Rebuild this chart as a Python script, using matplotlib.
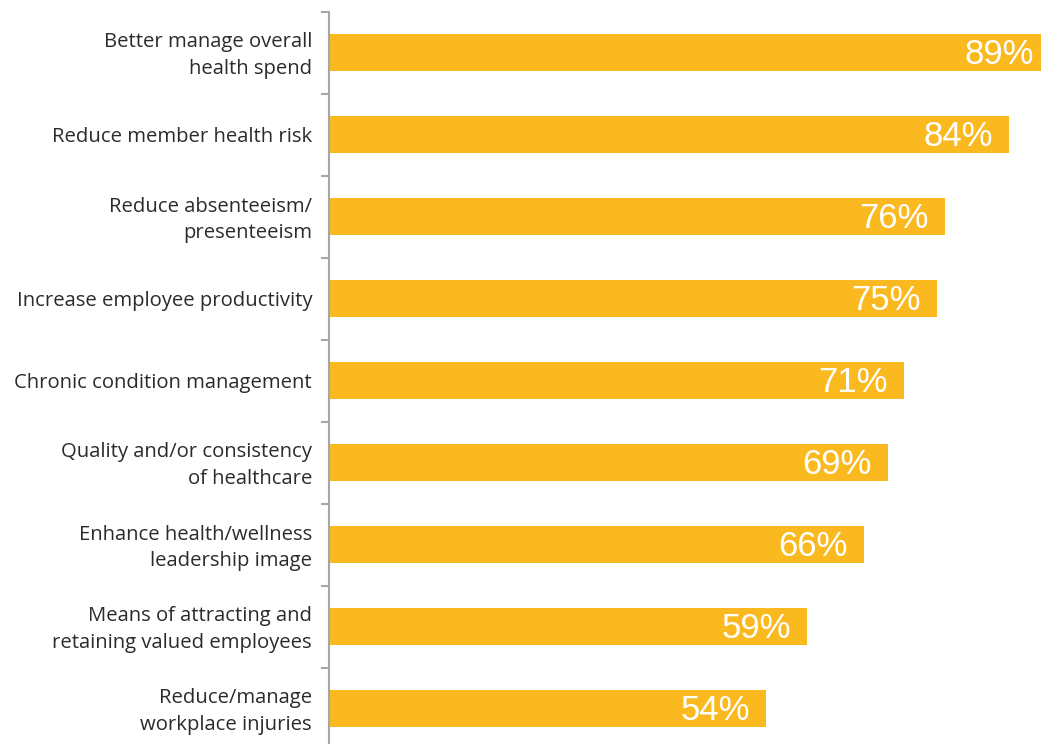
import matplotlib
matplotlib.use("Agg")
import matplotlib.pyplot as plt
from matplotlib.ticker import FixedLocator
import matplotlib.transforms as mtransforms

categories = [
    "Better manage overall\nhealth spend",
    "Reduce member health risk",
    "Reduce absenteeism/\npresenteeism",
    "Increase employee productivity",
    "Chronic condition management",
    "Quality and/or consistency\nof healthcare",
    "Enhance health/wellness\nleadership image",
    "Means of attracting and\nretaining valued employees",
    "Reduce/manage\nworkplace injuries",
]
values = [89, 84, 76, 75, 71, 69, 66, 59, 54]
value_labels = ["89%", "84%", "76%", "75%", "71%", "69%", "66%", "59%", "54%"]

W, H = 1041, 744
fig = plt.figure(figsize=(W / 100, H / 100), dpi=100)
ax_left = 329 / W
ax_top = 11.5 / H
ax_h = 738 / H
ax = fig.add_axes([ax_left, 1 - ax_top - ax_h, 1 - ax_left, ax_h])

bar_color = "#FBB920"
n = len(categories)
ypos = list(range(n))
ax.barh(ypos, values, height=0.46, color=bar_color, zorder=2)
ax.set_ylim(n - 0.5, -0.5)
ax.set_xlim(0, 87.9)

offset = mtransforms.offset_copy(ax.transData, fig=fig, x=-16, y=-2, units="dots")
for y, v, lab in zip(ypos, values, value_labels):
    ax.text(v, y, lab, transform=offset, ha="right", va="center",
            color="white", fontsize=25, family="Liberation Sans", zorder=3)

for s in ["top", "right", "bottom"]:
    ax.spines[s].set_visible(False)
ax.spines["left"].set_color("#A6A6A6")
ax.spines["left"].set_linewidth(1.5)
ax.set_xticks([])

ax.set_yticks(ypos)
ax.set_yticklabels(categories, fontsize=14.6, family="Open Sans", color="#2B2B2B",
                   linespacing=1.45)
ax.tick_params(axis="y", which="major", length=0, pad=12.2)
ax.yaxis.set_minor_locator(FixedLocator([i - 0.5 for i in range(n + 1)]))
ax.tick_params(axis="y", which="minor", length=5.8, width=1.5, color="#A6A6A6")

shift = mtransforms.ScaledTranslation(0, 2.5 / 100, fig.dpi_scale_trans)
for lbl in ax.get_yticklabels():
    if "\n" in lbl.get_text():
        lbl.set_transform(lbl.get_transform() + shift)

fig.savefig("out.png", dpi=100)
